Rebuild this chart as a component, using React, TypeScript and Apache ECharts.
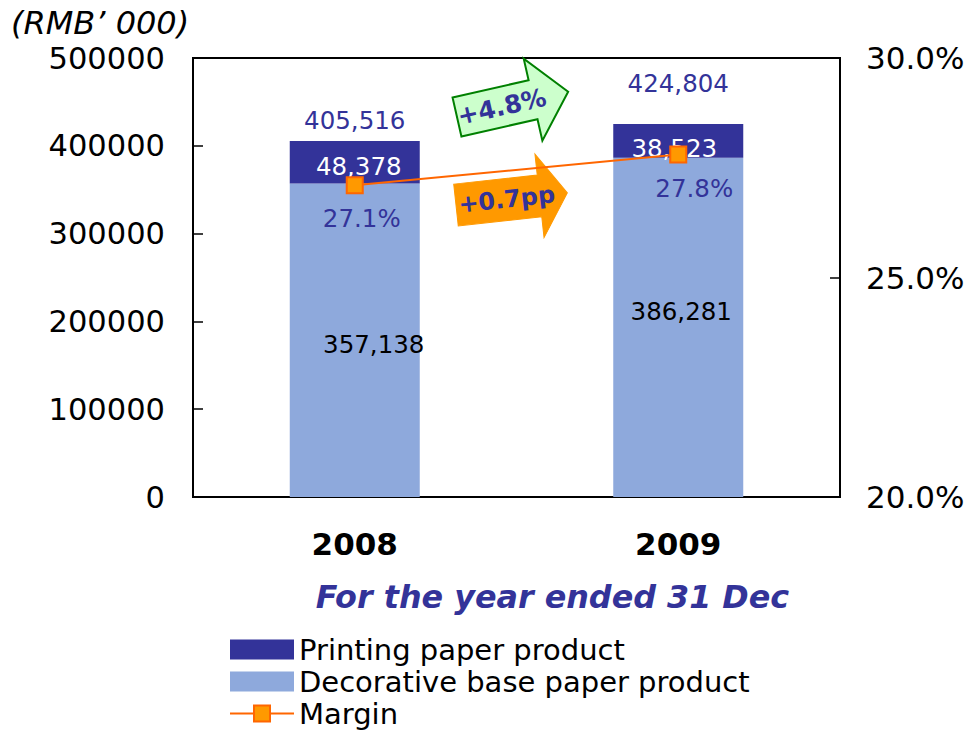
import React, { useEffect, useRef } from "react";
import * as echarts from "echarts";

const categories = ["2008", "2009"];
const decorative = [357138, 386281];
const printing = [48378, 38523];
const totals = [405516, 424804];
const marginPct = [27.1, 27.8];
const seriesNames = ["Printing paper product", "Decorative base paper product", "Margin"];
const growthLabel = "+4.8%";
const marginChangeLabel = "+0.7pp";

// label nudges (styling only)
const decoNudge = [[19, 4], [3, -16]];
const printNudge = [[4, 4], [-4, 8]];
const totalNudge = [[0, 0], [0, -20]];
const marginNudge = [[7, 0], [16, 0]];

const FONT = "DejaVu Sans";
const NAVY = "#333399";
const LIGHT = "#8EA9DC";

const fmt = (v: number) => v.toLocaleString("en-US");

function arrowPoints(len: number, bodyHalf: number, headHalf: number, headLen: number) {
  const b = len - headLen;
  return [
    [0, -bodyHalf],
    [b, -bodyHalf],
    [b, -headHalf],
    [len, 0],
    [b, headHalf],
    [b, bodyHalf],
    [0, bodyHalf],
  ];
}

export default function App() {
  const ref = useRef<HTMLDivElement>(null);
  useEffect(() => {
    if (!ref.current) return;
    const chart = echarts.init(ref.current, null, { renderer: "svg" });
    const greenAngle = (12.8 * Math.PI) / 180;
    const orangeAngle = (6.2 * Math.PI) / 180;
    chart.setOption({
      animation: false,
      textStyle: { fontFamily: FONT },
      grid: {
        left: 193,
        right: 130,
        top: 58,
        bottom: 233,
        show: true,
        borderColor: "#000",
        borderWidth: 2,
        backgroundColor: "transparent",
      },
      legend: {
        orient: "vertical",
        left: 229,
        top: 635,
        padding: 0,
        width: 700,
        height: 100,
        itemWidth: 64,
        itemHeight: 20,
        itemGap: 3,
        data: [
          { name: seriesNames[0], icon: "rect" },
          { name: seriesNames[1], icon: "rect" },
          { name: seriesNames[2] },
        ],
        textStyle: { fontFamily: FONT, fontSize: 29, color: "#000", lineHeight: 28 },
      },
      xAxis: {
        type: "category",
        data: categories,
        axisLine: { lineStyle: { color: "#000", width: 2 } },
        axisTick: { inside: true, length: 10, lineStyle: { color: "#000", width: 1.5 } },
        axisLabel: { fontFamily: FONT, fontSize: 31, fontWeight: "bold", color: "#000", margin: 31 },
        name: "For the year ended 31 Dec",
        nameLocation: "middle",
        nameGap: 83,
        nameTextStyle: {
          fontFamily: FONT,
          fontSize: 31.8,
          fontWeight: "bold",
          fontStyle: "italic",
          color: NAVY,
          padding: [0, 0, 0, 72],
        },
      },
      yAxis: [
        {
          type: "value",
          min: 0,
          max: 500000,
          interval: 100000,
          splitLine: { show: false },
          axisLine: { show: true, lineStyle: { color: "#000", width: 2 } },
          axisTick: { show: true, inside: true, length: 10, lineStyle: { color: "#000", width: 1.5 } },
          axisLabel: {
            fontFamily: FONT,
            fontSize: 30.5,
            color: "#000",
            margin: 28,
            formatter: (v: number) => String(v),
          },
        },
        {
          type: "value",
          min: 20,
          max: 30,
          interval: 5,
          position: "right",
          splitLine: { show: false },
          axisLine: { show: true, lineStyle: { color: "#000", width: 2 } },
          axisTick: { show: true, inside: true, length: 10, lineStyle: { color: "#000", width: 1.5 } },
          axisLabel: {
            fontFamily: FONT,
            fontSize: 31,
            color: "#000",
            margin: 26,
            formatter: (v: number) => v.toFixed(1) + "%",
          },
        },
      ],
      series: [
        {
          name: seriesNames[1],
          type: "bar",
          stack: "sales",
          barWidth: 130,
          itemStyle: { color: LIGHT },
          data: decorative.map((v, i) => ({
            value: v,
            label: { offset: decoNudge[i] },
          })),
          label: {
            show: true,
            position: "inside",
            color: "#000",
            fontFamily: FONT,
            fontSize: 24.5,
            formatter: (p: any) => fmt(p.value),
          },
        },
        {
          name: seriesNames[0],
          type: "bar",
          stack: "sales",
          barWidth: 130,
          itemStyle: { color: NAVY },
          data: printing.map((v, i) => ({
            value: v,
            label: { offset: printNudge[i] },
          })),
          label: {
            show: true,
            position: "inside",
            color: "#fff",
            fontFamily: FONT,
            fontSize: 24.5,
            formatter: (p: any) => fmt(p.value),
          },
        },
        {
          name: "Total",
          type: "scatter",
          symbolSize: 0,
          silent: true,
          itemStyle: { opacity: 1 },
          data: totals.map((v, i) => ({
            value: v,
            label: { offset: totalNudge[i] },
          })),
          label: {
            show: true,
            position: "top",
            distance: 8,
            color: NAVY,
            opacity: 1,
            fontFamily: FONT,
            fontSize: 24.5,
            formatter: (p: any) => fmt(p.value),
          },
        },
        {
          name: seriesNames[2],
          type: "line",
          yAxisIndex: 1,
          symbol: "rect",
          symbolSize: 16,
          z: 5,
          lineStyle: { color: "#FF6600", width: 2 },
          itemStyle: { color: "#FF9900", borderColor: "#FF6600", borderWidth: 2 },
          data: marginPct.map((v, i) => ({
            value: v,
            label: { offset: marginNudge[i] },
          })),
          label: {
            show: true,
            position: "bottom",
            distance: 12,
            color: NAVY,
            fontFamily: FONT,
            fontSize: 24.5,
            formatter: (p: any) => Number(p.value).toFixed(1) + "%",
          },
        },
      ],
      graphic: [
        {
          type: "text",
          left: 11,
          top: 7,
          style: {
            text: "(RMB\u2019 000)",
            fontFamily: FONT,
            fontSize: 32,
            fontStyle: "italic",
            fill: "#000",
          },
        },
        {
          type: "group",
          x: 457,
          y: 117,
          rotation: greenAngle,
          z: 100,
          children: [
            {
              type: "polygon",
              shape: { points: arrowPoints(114, 20, 42, 36) },
              style: { fill: "#CCFFCC", stroke: "#008000", lineWidth: 2 },
            },
            {
              type: "text",
              x: 46,
              y: 0,
              style: {
                text: growthLabel,
                fontFamily: FONT,
                fontSize: 25,
                fontWeight: "bold",
                fill: NAVY,
                align: "center",
                verticalAlign: "middle",
              },
            },
          ],
        },
        {
          type: "group",
          x: 456,
          y: 205,
          rotation: orangeAngle,
          z: 100,
          children: [
            {
              type: "polygon",
              shape: { points: arrowPoints(112, 21, 42, 28) },
              style: { fill: "#FF9900", stroke: "#FF9900", lineWidth: 1 },
            },
            {
              type: "text",
              x: 51,
              y: 0,
              style: {
                text: marginChangeLabel,
                fontFamily: FONT,
                fontSize: 24,
                fontWeight: "bold",
                fill: NAVY,
                align: "center",
                verticalAlign: "middle",
              },
            },
          ],
        },
      ],
    });
    return () => chart.dispose();
  }, []);
  return <div ref={ref} style={{ width: 970, height: 730, position: "absolute", left: 0, top: 0 }} />;
}
